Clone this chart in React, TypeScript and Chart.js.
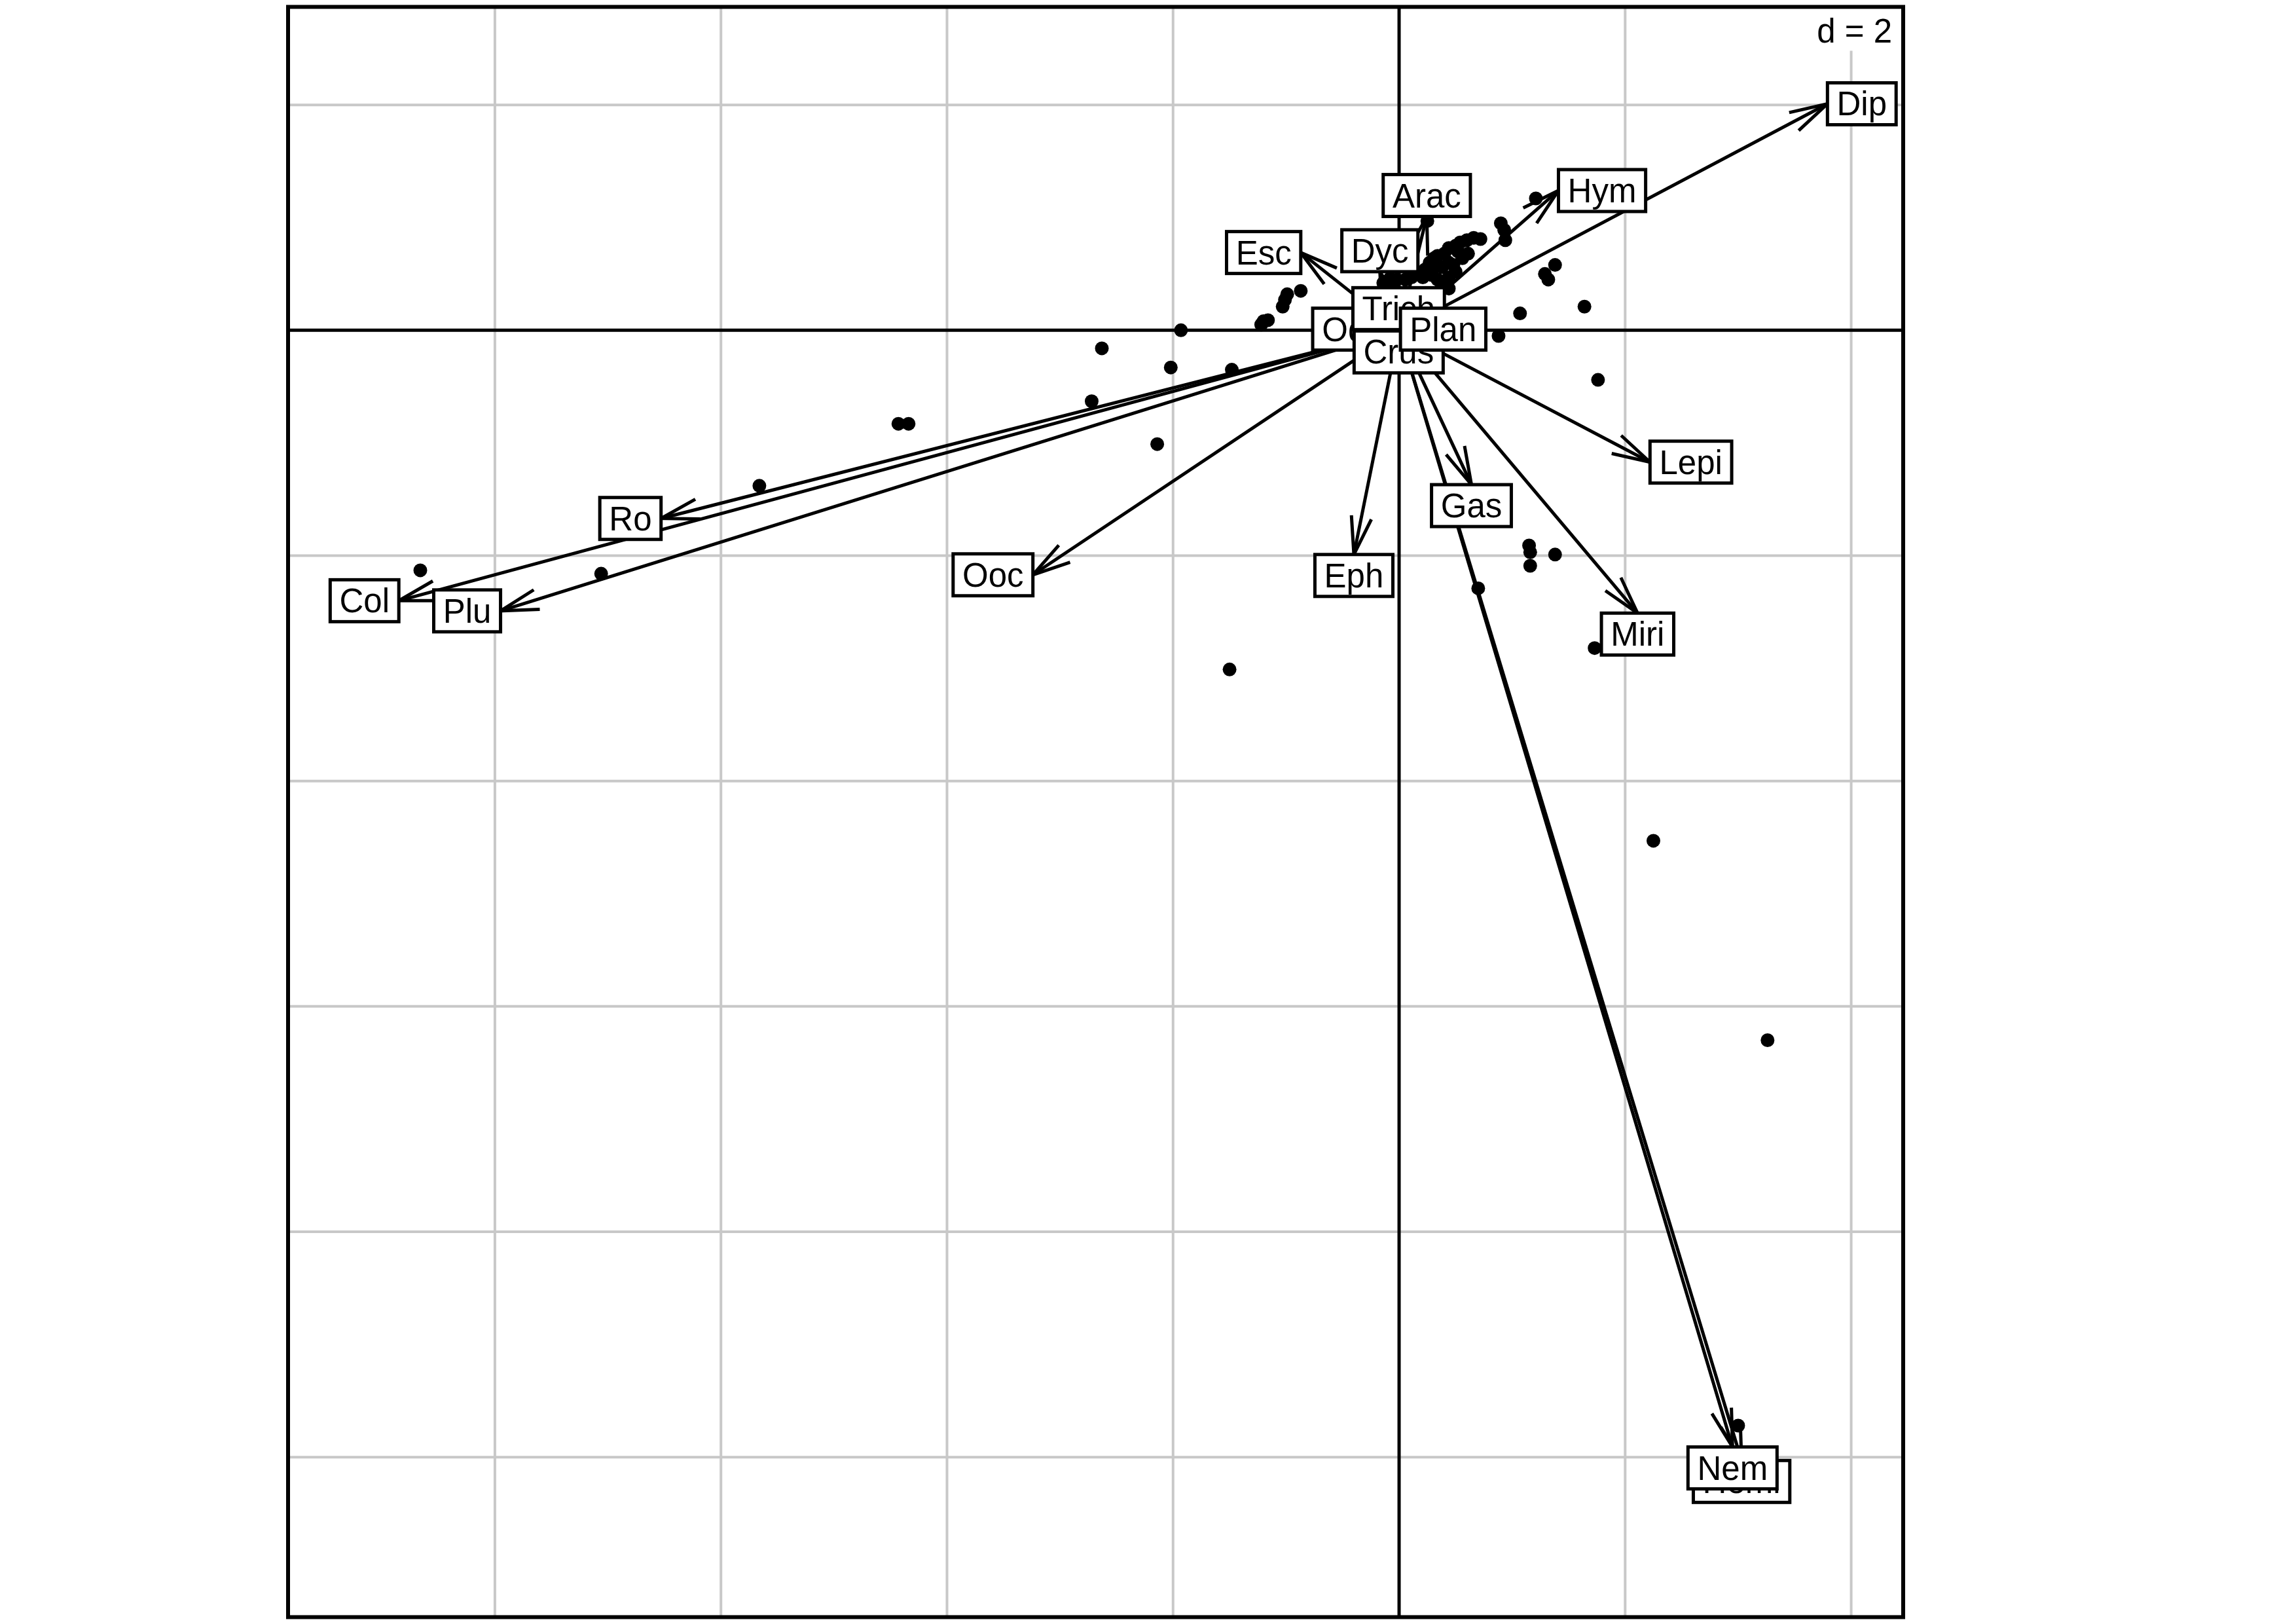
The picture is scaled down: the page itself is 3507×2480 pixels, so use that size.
import React, { useEffect, useRef } from "react";
import { Chart, registerables } from "chart.js";

Chart.register(...registerables);

// Arrow (variable) labels and their end coordinates, drawn in this order
const arrowLabels = ["Odo", "Trich", "Crus", "Plan", "Dip", "Hym", "Arac", "Dyc", "Esc", "Ro", "Col", "Plu", "Ooc", "Eph", "Gas", "Lepi", "Miri", "Hemi", "Nem"];
const arrowX = [-0.042, -0.004, -0.004, 0.012, 3.79, 1.41, 0.245, -0.17, -0.87, -6.53, -8.85, -7.95, -3.24, -0.40, 0.64, 2.22, 2.11, 3.03, 2.95];
const arrowY = [0.01, 0.006, -0.006, 0.01, 2.01, 1.24, 1.01, 0.52, 0.69, -1.67, -2.40, -2.49, -2.17, -1.99, -1.37, -1.17, -2.51, -10.03, -9.91];

// Row scores (dots)
const pointX = [
  -8.66, -7.06, -5.66, -4.43, -4.34, -2.72, -2.63, -2.14, -2.02, -1.93, -1.48, -1.50, -1.20, -1.16, -1.22, -1.03, -1.01, -0.99, -0.87,
  0.70, 1.15, 1.16, 1.16, 1.38, 1.73, 2.25, 3.26, 3.00, 1.76, 0.88, 1.07, 1.64, 1.29, 1.32, 1.38, 1.21, 0.90, 0.93, 0.94, 0.25,
  0.72, 0.66, 0.60, 0.54, 0.50, 0.44, 0.40, 0.34, 0.31, 0.27, 0.33, 0.38, 0.48, 0.56, 0.61, 0.52, 0.44, 0.23, 0.17, 0.11, 0.055, -0.02, -0.08, -0.12,
  0.44, 0.50, 0.40, 0.34, 0.29, 0.21, 0.44, -0.14, -0.05
];
const pointY = [
  -2.13, -2.16, -1.38, -0.83, -0.83, -0.63, -0.16, -1.01, -0.33, 0.00, -0.35, -3.01, 0.08, 0.09, 0.05, 0.21, 0.27, 0.32, 0.35,
  -2.29, -1.91, -1.97, -2.09, -1.99, -2.82, -4.53, -6.30, -9.72, -0.44, -0.05, 0.15, 0.21, 0.50, 0.45, 0.58, 1.17, 0.95, 0.89, 0.80, 0.97,
  0.81, 0.82, 0.80, 0.78, 0.75, 0.73, 0.68, 0.66, 0.64, 0.60, 0.58, 0.56, 0.58, 0.64, 0.68, 0.70, 0.60, 0.54, 0.50, 0.47, 0.45, 0.45, 0.46, 0.43,
  0.47, 0.52, 0.43, 0.45, 0.49, 0.47, 0.37, 0.42, 0.40
];

// Grid (d = 2)
const gridX = [-8, -6, -4, -2, 2, 4];
const gridY = [-10, -8, -6, -4, -2, 2];
const gridLabel = "d = 2";
const xRange = [-9.83, 4.46];
const yRange = [-11.42, 2.87];

const FONT = "51px 'Liberation Sans', Arial, sans-serif";

const biplotPlugin = {
  id: "biplot",
  beforeDatasetsDraw(chart: any) {
    const ctx = chart.ctx;
    const a = chart.chartArea;
    const xs = chart.scales.x;
    const ys = chart.scales.y;
    ctx.save();
    ctx.strokeStyle = "#c8c8c8";
    ctx.lineWidth = 4;
    for (const g of gridX) {
      const p = xs.getPixelForValue(g);
      ctx.beginPath();
      ctx.moveTo(p, a.top);
      ctx.lineTo(p, a.bottom);
      ctx.stroke();
    }
    for (const g of gridY) {
      const p = ys.getPixelForValue(g);
      ctx.beginPath();
      ctx.moveTo(a.left, p);
      ctx.lineTo(a.right, p);
      ctx.stroke();
    }
    // d = 2 legend
    ctx.font = FONT;
    const tw = ctx.measureText(gridLabel).width;
    ctx.fillStyle = "#ffffff";
    ctx.fillRect(a.right - tw - 34, a.top + 2, tw + 32, 65);
    ctx.fillStyle = "#000000";
    ctx.textAlign = "right";
    ctx.textBaseline = "alphabetic";
    ctx.fillText(gridLabel, a.right - 17, a.top + 54);
    // axes through origin
    const x0 = xs.getPixelForValue(0);
    const y0 = ys.getPixelForValue(0);
    ctx.strokeStyle = "#000000";
    ctx.lineWidth = 5;
    ctx.beginPath();
    ctx.moveTo(x0, a.top);
    ctx.lineTo(x0, a.bottom);
    ctx.moveTo(a.left, y0);
    ctx.lineTo(a.right, y0);
    ctx.stroke();
    ctx.restore();
  },
  afterDatasetsDraw(chart: any) {
    const ctx = chart.ctx;
    const a = chart.chartArea;
    const xs = chart.scales.x;
    const ys = chart.scales.y;
    const x0 = xs.getPixelForValue(0);
    const y0 = ys.getPixelForValue(0);
    ctx.save();
    // arrow heads
    ctx.strokeStyle = "#000000";
    ctx.lineWidth = 5;
    ctx.lineCap = "butt";
    const L = 60;
    const ang = (15 * Math.PI) / 180;
    for (let i = 0; i < arrowLabels.length; i++) {
      const px = xs.getPixelForValue(arrowX[i]);
      const py = ys.getPixelForValue(arrowY[i]);
      const back = Math.atan2(y0 - py, x0 - px);
      ctx.beginPath();
      ctx.moveTo(px + L * Math.cos(back + ang), py + L * Math.sin(back + ang));
      ctx.lineTo(px, py);
      ctx.lineTo(px + L * Math.cos(back - ang), py + L * Math.sin(back - ang));
      ctx.stroke();
    }
    // labels in boxes (ade4 eti.circ placement)
    ctx.font = FONT;
    const hh = 32;
    for (let i = 0; i < arrowLabels.length; i++) {
      const xr = arrowX[i];
      const yr = arrowY[i];
      const px = xs.getPixelForValue(xr);
      const py = ys.getPixelForValue(yr);
      const w = ctx.measureText(" " + arrowLabels[i] + " ").width;
      let cx = px;
      let cy = py;
      if (xr > yr && xr > -yr) { cx = px + w / 2; cy = py; }
      else if (xr > yr && xr <= -yr) { cx = px; cy = py + hh; }
      else if (xr <= yr && xr <= -yr) { cx = px - w / 2; cy = py; }
      else { cx = px; cy = py - hh; }
      ctx.fillStyle = "#ffffff";
      ctx.fillRect(cx - w / 2, cy - hh, w, 2 * hh);
      ctx.lineWidth = 5;
      ctx.strokeStyle = "#000000";
      ctx.strokeRect(cx - w / 2, cy - hh, w, 2 * hh);
      ctx.fillStyle = "#000000";
      ctx.textAlign = "center";
      ctx.textBaseline = "alphabetic";
      ctx.fillText(arrowLabels[i], cx, cy + 18);
    }
    // frame
    ctx.lineWidth = 6;
    ctx.strokeStyle = "#000000";
    ctx.strokeRect(a.left, a.top, a.right - a.left, a.bottom - a.top);
    ctx.restore();
  },
};

export default function App() {
  const ref = useRef<HTMLCanvasElement | null>(null);
  useEffect(() => {
    if (!ref.current) return;
    const dots = pointX.map((x, i) => ({ x, y: pointY[i] }));
    const arrowSets = arrowLabels.map((lab, i) => ({
      type: "scatter" as const,
      label: lab,
      data: [{ x: 0, y: 0 }, { x: arrowX[i], y: arrowY[i] }],
      showLine: true,
      borderColor: "#000000",
      borderWidth: 5,
      pointRadius: 0,
      fill: false,
      order: 1,
    }));
    const chart = new Chart(ref.current, {
      type: "scatter",
      data: {
        datasets: [
          ...arrowSets,
          {
            type: "scatter" as const,
            label: "rows",
            data: dots,
            pointRadius: 10.5,
            pointBackgroundColor: "#000000",
            pointBorderWidth: 0,
            borderWidth: 0,
            order: 2,
          },
        ],
      },
      options: {
        responsive: false,
        animation: false,
        devicePixelRatio: 1,
        layout: { padding: { left: 440, top: 5, right: 600, bottom: 8 } },
        plugins: { legend: { display: false }, tooltip: { enabled: false } },
        scales: {
          x: { type: "linear", min: xRange[0], max: xRange[1], display: false },
          y: { type: "linear", min: yRange[0], max: yRange[1], display: false },
        },
      },
      plugins: [biplotPlugin],
    } as any);
    return () => chart.destroy();
  }, []);
  return (
    <div style={{ position: "absolute", left: 0, top: 0, width: 3507, height: 2480, background: "#ffffff" }}>
      <canvas ref={ref} width={3507} height={2480} style={{ display: "block" }} />
    </div>
  );
}
